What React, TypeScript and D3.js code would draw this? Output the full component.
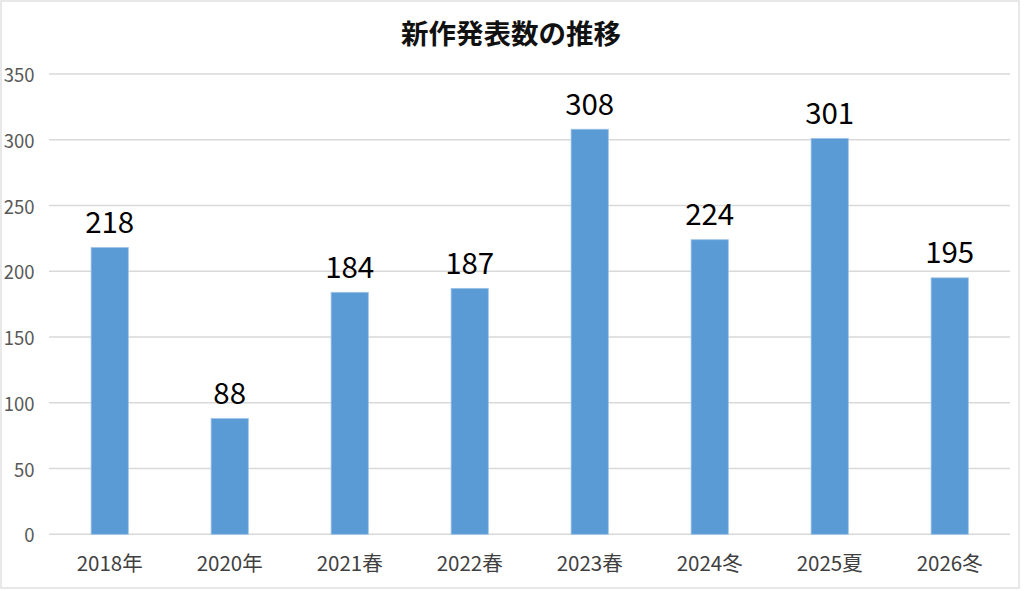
import React from "react";
import * as d3 from "d3";

const categories = ["2018年", "2020年", "2021春", "2022春", "2023春", "2024冬", "2025夏", "2026冬"];
const values = [218, 88, 184, 187, 308, 224, 301, 195];
const yTicks = [0, 50, 100, 150, 200, 250, 300, 350];
const title = "新作発表数の推移";

const W = 1024;
const H = 591;

export default function App() {
  const x = d3
    .scaleBand<string>()
    .domain(categories)
    .range([49.7, 1009.7])
    .paddingInner(0.69)
    .paddingOuter(0.345);
  const y = d3.scaleLinear().domain([0, 350]).range([534.3, 74]);
  const font = "'Noto Sans CJK JP', 'Noto Sans', sans-serif";
  return (
    <svg
      width={W}
      height={H}
      style={{ position: "absolute", left: 0, top: 0, background: "#fff" }}
      fontFamily={font}
    >
      <rect x={1} y={1} width={1018} height={587} fill="#fff" stroke="#d9d9d9" strokeWidth={1.2} />
      <text x={511} y={31.5} textAnchor="middle" dominantBaseline="central" fontSize={27.5} fontWeight="bold" fill="#111">
        {title}
      </text>
      {yTicks.map((t) => (
        <g key={t}>
          <line x1={49} x2={1010} y1={y(t)} y2={y(t)} stroke="#d9d9d9" strokeWidth={1.5} />
          <text x={34.5} y={y(t)} textAnchor="end" dominantBaseline="central" fontSize={18.5} fill="#595959">
            {t}
          </text>
        </g>
      ))}
      {categories.map((c, i) => (
        <g key={c}>
          <rect
            x={x(c)}
            y={y(values[i])}
            width={x.bandwidth()}
            height={y(0) - y(values[i])}
            fill="#5B9BD5"
            stroke="#9dc3e6"
            strokeWidth={0.8}
          />
          <text
            x={(x(c) as number) + x.bandwidth() / 2}
            y={y(values[i]) - 14.5}
            textAnchor="middle"
            fontSize={29.5}
            fill="#000"
          >
            {values[i]}
          </text>
          <text
            x={(x(c) as number) + x.bandwidth() / 2}
            y={570.5}
            textAnchor="middle"
            fontSize={20.5}
            fill="#404040"
          >
            {c}
          </text>
        </g>
      ))}
    </svg>
  );
}
